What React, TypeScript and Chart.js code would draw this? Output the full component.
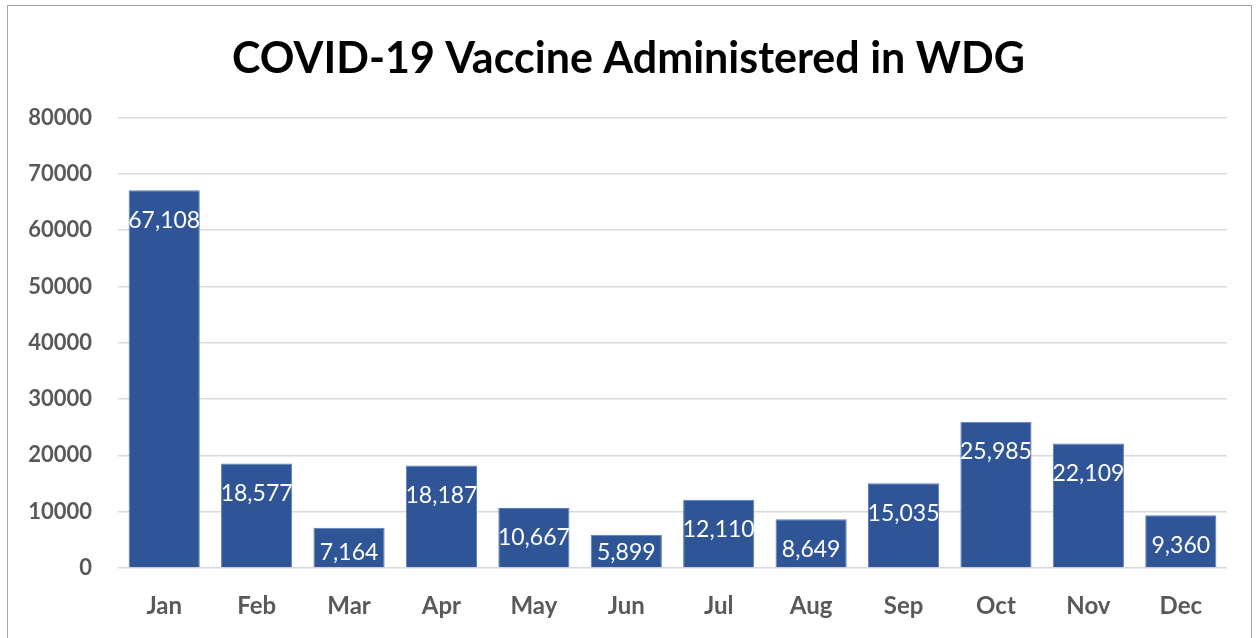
import React, { useEffect, useRef } from "react";
import { Chart, registerables } from "chart.js";

Chart.register(...registerables);

const TITLE = "COVID-19 Vaccine Administered in WDG";
const MONTHS = ["Jan", "Feb", "Mar", "Apr", "May", "Jun", "Jul", "Aug", "Sep", "Oct", "Nov", "Dec"];
const VACCINES = [67108, 18577, 7164, 18187, 10667, 5899, 12110, 8649, 15035, 25985, 22109, 9360];
const Y_MIN = 0;
const Y_MAX = 80000;
const Y_STEP = 10000;

const FONT = "Lato, 'Open Sans', sans-serif";

const labelPlugin = {
  id: "barLabels",
  afterDatasetsDraw(chart: any) {
    const ctx = chart.ctx;
    const meta = chart.getDatasetMeta(0);
    const data = chart.data.datasets[0].data as number[];
    ctx.save();
    ctx.fillStyle = "#ffffff";
    ctx.font = `23px ${FONT}`;
    ctx.textAlign = "center";
    ctx.textBaseline = "middle";
    meta.data.forEach((bar: any, i: number) => {
      const y = Math.min(bar.y + 30, bar.base - 15);
      ctx.fillText(data[i].toLocaleString("en-US"), bar.x, y);
    });
    ctx.restore();
  },
};

export default function App() {
  const ref = useRef<HTMLCanvasElement>(null);
  useEffect(() => {
    document.body.style.margin = "0";
    const chart = new Chart(ref.current!, {
      type: "bar",
      data: {
        labels: MONTHS,
        datasets: [
          {
            data: VACCINES,
            backgroundColor: "#2F5597",
            borderColor: "#5A7DBF",
            borderWidth: 1,
            barPercentage: 0.77,
            categoryPercentage: 1,
            yAxisID: "y",
          },
        ],
      },
      options: {
        responsive: false,
        animation: false,
        layout: { padding: 0 },
        plugins: {
          legend: { display: false },
          tooltip: { enabled: false },
          title: {
            display: true,
            text: TITLE,
            color: "#000000",
            font: { family: FONT, size: 43, weight: "bold", lineHeight: 1.2 },
            padding: { top: 33, bottom: 33 },
          },
        },
        scales: {
          x: {
            grid: { display: false, drawTicks: false },
            border: { display: false },
            ticks: {
              color: "#595959",
              font: { family: FONT, size: 24, weight: "bold", lineHeight: 1.2 },
              padding: 24,
            },
            afterFit(s: any) {
              s.height = 70;
            },
          },
          y: {
            min: Y_MIN,
            max: Y_MAX,
            ticks: {
              stepSize: Y_STEP,
              color: "#595959",
              font: { family: FONT, size: 22, weight: "bold", lineHeight: 1.2 },
              padding: 26,
              callback: (v: any) => String(v),
            },
            grid: { color: "#d9d9d9", lineWidth: 1.5, drawTicks: false },
            border: { display: false },
            afterFit(s: any) {
              s.width = 118;
            },
          },
          yRight: {
            position: "right",
            min: Y_MIN,
            max: Y_MAX,
            grid: { display: false, drawTicks: false },
            border: { display: false },
            ticks: { display: false },
            afterFit(s: any) {
              s.width = 30;
            },
          },
        },
      },
      plugins: [labelPlugin],
    });
    return () => chart.destroy();
  }, []);

  return (
    <div style={{ position: "fixed", left: 0, top: 0, width: 1257, height: 638, background: "#fff", overflow: "hidden" }}>
      <div
        style={{
          position: "absolute",
          left: 7,
          top: 5,
          width: 1245,
          height: 700,
          border: "1.5px solid #a6a6a6",
          boxSizing: "border-box",
        }}
      />
      <canvas ref={ref} width={1257} height={638} style={{ position: "absolute", left: 0, top: 0 }} />
    </div>
  );
}
